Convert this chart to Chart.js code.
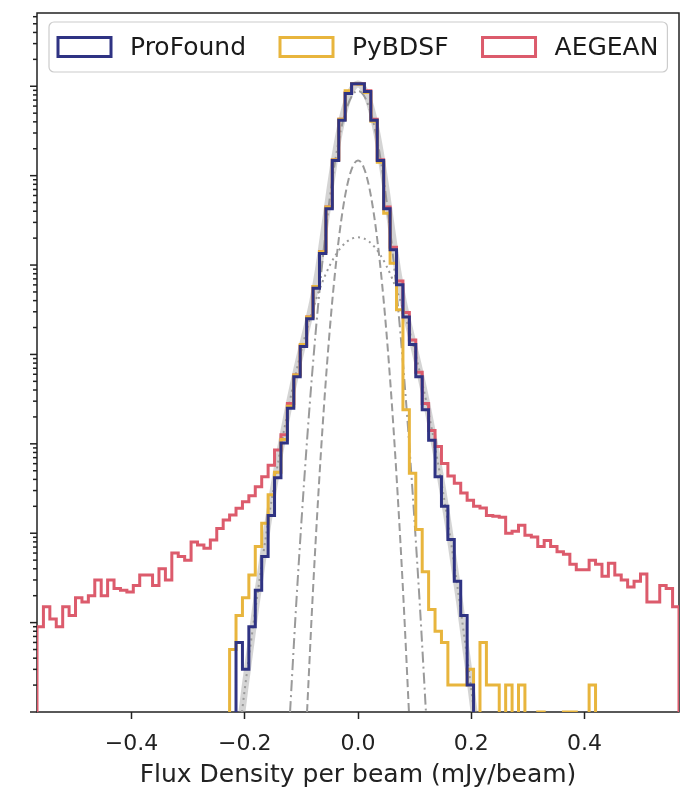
<!DOCTYPE html>
<html>
<head>
<meta charset="utf-8">
<script src="https://cdn.jsdelivr.net/npm/chart.js@4.4.1/dist/chart.umd.min.js"></script>
<style>
  html, body { margin: 0; padding: 0; background: #fff; }
</style>
</head>
<body>
<canvas id="hist" width="694" height="794"></canvas>
<script>
// histogram range: 100 bins between the axis limits
const X_MIN = -0.567;
const X_MAX = 0.567;
const N_BINS = 100;
const BIN_W = (X_MAX - X_MIN) / N_BINS;
const X_TICKS = [-0.4, -0.2, 0.0, 0.2, 0.4];
const Y_MIN = 1;
const Y_MAX = 6.6e7;
const FLOOR = 1e-3; // empty bins drop below the axis

const labels = ["ProFound", "PyBDSF", "AEGEAN"];
const colors = ["#2f3383", "#e8b53d", "#dc5b6c"];

// counts per bin
const profound = [
  0, 0, 0, 0, 0, 0, 0, 0, 0, 0,
  0, 0, 0, 0, 0, 0, 0, 0, 0, 0,
  0, 0, 0, 0, 0, 0, 0, 0, 0, 0,
  0, 6, 3, 9, 23, 55, 158, 417, 1020, 2500,
  5620, 12300, 25100, 55000, 135000, 427000, 1480000, 4170000, 8320000, 10700000,
  10700000, 8710000, 4170000, 1480000, 427000, 148000, 60300, 26300, 12900, 5620,
  2400, 1100, 427, 200, 85, 29, 12, 2, 0, 0,
  0, 0, 0, 0, 0, 0, 0, 0, 0, 0,
  0, 0, 0, 0, 0, 0, 0, 0, 0, 0,
  0, 0, 0, 0, 0, 0, 0, 0, 0, 0,
];

const pybdsf = [
  0, 0, 0, 0, 0, 0, 0, 0, 0, 0,
  0, 0, 0, 0, 0, 0, 0, 0, 0, 0,
  0, 0, 0, 0, 0, 0, 0, 0, 0, 0,
  5, 12, 19, 34, 71, 129, 269, 480, 1120, 2630,
  5900, 12900, 26300, 57500, 141000, 447000, 1510000, 4270000, 8900000, 10700000,
  10500000, 8510000, 4070000, 1410000, 380000, 105000, 31600, 2400, 468, 110,
  37, 14, 8, 6, 2, 2, 2, 3, 0, 6,
  2, 2, 0, 2, 0, 2, 0, 0, 1, 0,
  0, 0, 1, 1, 0, 0, 2, 0, 0, 0,
  0, 0, 0, 0, 0, 0, 0, 0, 0, 0,
];

const aegean = [
  9, 15, 11, 9, 15, 12, 19, 17, 20, 30,
  20, 30, 24, 23, 22, 26, 34, 34, 26, 40,
  30, 60, 55, 50, 80, 74, 68, 84, 113, 141,
  160, 190, 225, 263, 331, 427, 575, 851, 1260, 2820,
  5900, 12600, 26300, 57500, 141000, 447000, 1510000, 4270000, 8510000, 10700000,
  10700000, 8910000, 4270000, 1510000, 447000, 158000, 66100, 29500, 14500, 6310,
  2820, 1410, 933, 603, 437, 363, 282, 234, 200, 191,
  158, 155, 151, 100, 105, 123, 95, 91, 71, 83,
  71, 62, 58, 45, 39, 39, 50, 45, 33, 46,
  34, 30, 25, 29, 35, 17, 17, 26, 24, 15,
];

// fitted components (grey curves)
const dashX = [-0.09, -0.08, -0.07, -0.06, -0.05, -0.04, -0.03, -0.02, -0.01, 0,
  0.01, 0.02, 0.03, 0.04, 0.05, 0.06, 0.07, 0.08, 0.09];
const dashY = [1, 20, 274, 2680, 18450, 89300, 305000, 733000, 1240000, 1480000,
  1240000, 733000, 305000, 89300, 18450, 2680, 274, 20, 1];

const dashDotX = [-0.12, -0.11, -0.10, -0.09, -0.08, -0.07, -0.06, -0.05, -0.04, -0.03, -0.02, -0.01, 0,
  0.01, 0.02, 0.03, 0.04, 0.05, 0.06, 0.07, 0.08, 0.09, 0.10, 0.11, 0.12];
const dashDotY = [1, 13, 132, 1096, 7240, 38000, 162000, 550000, 1510000, 3310000, 5710000, 7940000, 8910000,
  7940000, 5710000, 3310000, 1510000, 550000, 162000, 38000, 7240, 1096, 132, 13, 1];

const dotX = [-0.205, -0.20, -0.18, -0.16, -0.14, -0.12, -0.10, -0.08, -0.06, -0.04, -0.02, 0,
  0.02, 0.04, 0.06, 0.08, 0.10, 0.12, 0.14, 0.16, 0.18, 0.20, 0.205];
const dotY = [1, 1.8, 16, 119, 681, 3090, 11100, 31700, 71600, 128000, 182000, 204000,
  182000, 128000, 71600, 31700, 11100, 3090, 681, 119, 16, 1.8, 1];

const sumX = [-0.205, -0.20, -0.18, -0.16, -0.14, -0.12, -0.11, -0.10, -0.09, -0.08, -0.07, -0.06,
  -0.05, -0.04, -0.03, -0.02, -0.01, 0, 0.01, 0.02, 0.03, 0.04, 0.05,
  0.06, 0.07, 0.08, 0.09, 0.10, 0.11, 0.12, 0.14, 0.16, 0.18, 0.20, 0.205];
const sumY = [1, 1.8, 16, 119, 681, 3090, 6050, 11250, 20500, 39000, 87400, 237000,
  667000, 1730000, 3770000, 6620000, 9380000, 10600000, 9380000, 6620000, 3770000, 1730000, 667000,
  237000, 87400, 39000, 20500, 11250, 6050, 3090, 681, 119, 16, 1.8, 1];

function stepPoints(counts) {
  const pts = [{ x: X_MIN, y: FLOOR }];
  counts.forEach((c, i) => {
    pts.push({ x: X_MIN + i * BIN_W, y: c > 0 ? c : FLOOR });
  });
  const last = counts[counts.length - 1];
  pts.push({ x: X_MAX, y: last > 0 ? last : FLOOR });
  pts.push({ x: X_MAX, y: FLOOR });
  return pts;
}

function curvePoints(xs, ys) {
  return xs.map((x, i) => ({ x, y: ys[i] }));
}

function histSet(i, counts) {
  return {
    label: labels[i],
    data: stepPoints(counts),
    borderColor: colors[i],
    backgroundColor: "rgba(255,255,255,0)",
    borderWidth: 3,
    stepped: true,
    pointRadius: 0,
    fill: false,
    inLegend: true,
  };
}

function fitSet(label, xs, ys, style) {
  return Object.assign({
    label,
    data: curvePoints(xs, ys),
    borderColor: "#9a9a9a",
    borderWidth: 2,
    pointRadius: 0,
    fill: false,
    cubicInterpolationMode: "monotone",
    inLegend: false,
  }, style);
}

const datasets = [
  histSet(0, profound),
  histSet(1, pybdsf),
  histSet(2, aegean),
  fitSet("dashed", dashX, dashY, { borderDash: [8, 4] }),
  fitSet("dashdot", dashDotX, dashDotY, { borderDash: [11, 4, 2, 4] }),
  fitSet("dotted", dotX, dotY, { borderDash: [2, 4] }),
  fitSet("total", sumX, sumY, { borderColor: "rgba(170,170,170,0.5)", borderWidth: 7 }),
];

const fmtTick = (v) => {
  if (Math.abs(v) < 1e-9) return "0.0";
  const s = Math.abs(v).toFixed(1);
  return v < 0 ? "\u2212" + s : s;
};

// spines + log minor/major ticks on the left
const framePlugin = {
  id: "frame",
  beforeDatasetsDraw(chart) {
    const { ctx, chartArea: a, scales } = chart;
    const y = scales.y;
    ctx.save();
    ctx.strokeStyle = "#222";
    ctx.lineWidth = 1.5;
    for (let k = 0; k <= 7; k++) {
      for (let m = 1; m <= 9; m++) {
        const v = m * Math.pow(10, k);
        if (v < y.min || v > y.max) continue;
        const py = y.getPixelForValue(v);
        const len = m === 1 ? 7 : 4;
        ctx.beginPath();
        ctx.moveTo(a.left - len, py);
        ctx.lineTo(a.left, py);
        ctx.stroke();
      }
    }
    ctx.strokeRect(a.left, a.top, a.right - a.left, a.bottom - a.top);
    ctx.restore();
  },
};

// matplotlib-like legend inside the axes
const legendPlugin = {
  id: "insideLegend",
  afterDraw(chart) {
    const { ctx, chartArea: a } = chart;
    const items = chart.data.datasets.filter((d) => d.inLegend);
    const fontSize = 25;
    ctx.save();
    ctx.font = fontSize + 'px "DejaVu Sans"';
    const handleW = 53, handleH = 19, gap = 19, itemGap = 34;
    const startX = a.left + 21;
    const cy = a.top + 34;
    let x = startX;
    const pos = items.map((d) => {
      const p = x;
      x += handleW + gap + ctx.measureText(d.label).width + itemGap;
      return p;
    });
    const right = x - itemGap + 9;
    const left = a.left + 12;
    const top = cy - 25, h = 50;
    ctx.beginPath();
    ctx.roundRect(left, top, right - left, h, 5);
    ctx.fillStyle = "rgba(255,255,255,0.8)";
    ctx.fill();
    ctx.strokeStyle = "#cccccc";
    ctx.lineWidth = 1.2;
    ctx.stroke();
    items.forEach((d, i) => {
      ctx.strokeStyle = d.borderColor;
      ctx.lineWidth = 3;
      ctx.strokeRect(pos[i], cy - handleH / 2, handleW, handleH);
      ctx.fillStyle = "#1a1a1a";
      ctx.textBaseline = "middle";
      ctx.textAlign = "left";
      ctx.fillText(d.label, pos[i] + handleW + gap, cy + 1);
    });
    ctx.restore();
  },
};

Chart.defaults.font.family = '"DejaVu Sans", sans-serif';

new Chart(document.getElementById("hist").getContext("2d"), {
  type: "line",
  data: { datasets },
  options: {
    responsive: false,
    animation: false,
    devicePixelRatio: 1,
    events: [],
    layout: { padding: { left: 37, right: 15, top: 13, bottom: 0 } },
    plugins: {
      legend: { display: false },
      tooltip: { enabled: false },
    },
    scales: {
      x: {
        type: "linear",
        min: X_MIN,
        max: X_MAX,
        afterBuildTicks: (s) => {
          s.ticks = X_TICKS.map((v) => ({ value: v }));
        },
        afterFit: (s) => {
          s.height = 82;
        },
        ticks: {
          callback: (v) => fmtTick(v),
          font: { size: 22 },
          color: "#222",
          padding: 12,
          maxRotation: 0,
          autoSkip: false,
        },
        grid: {
          drawOnChartArea: false,
          drawTicks: true,
          tickLength: 7,
          tickWidth: 1.5,
          tickColor: "#222",
        },
        border: { display: false },
        title: {
          display: true,
          text: "Flux Density per beam (mJy/beam)",
          font: { size: 25 },
          color: "#222",
          padding: { top: 0, bottom: 4 },
        },
      },
      y: {
        type: "logarithmic",
        min: Y_MIN,
        max: Y_MAX,
        display: false,
      },
    },
  },
  plugins: [framePlugin, legendPlugin],
});
</script>
</body>
</html>
